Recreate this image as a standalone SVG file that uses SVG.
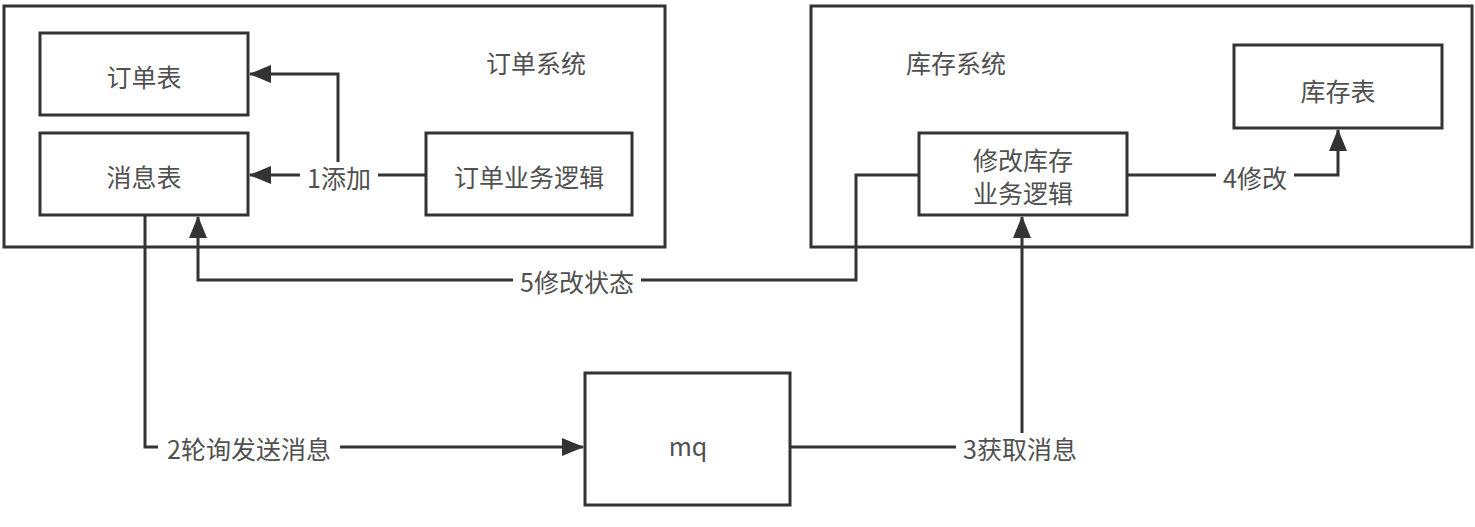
<svg xmlns="http://www.w3.org/2000/svg" width="1475" height="527" viewBox="0 0 1475 527">
<defs>
<style>
.box{fill:#fff;stroke:#333;stroke-width:3}
.t{font-family:"Noto Sans CJK SC","Liberation Sans",sans-serif;font-size:25px;fill:#505050;text-anchor:middle;dominant-baseline:central}
.c{fill:none;stroke:#333;stroke-width:3}
.lb{fill:#fff}
</style>
<marker id="ah" viewBox="0 0 22 18" refX="21" refY="9" markerWidth="22" markerHeight="18" markerUnits="userSpaceOnUse" orient="auto">
<path d="M0,0 L22,9 L0,18 Z" fill="#333"/>
</marker>
</defs>
<rect width="1475" height="527" fill="#fff"/>
<g id="order-system">
<rect class="box" x="4" y="6" width="661" height="241"/>
<text class="t" x="536" y="62">订单系统</text>
</g>
<g id="stock-system">
<rect class="box" x="811" y="6" width="661" height="241"/>
<text class="t" x="956" y="62">库存系统</text>
</g>
<g id="order-table">
<rect class="box" x="40" y="33" width="208" height="82"/>
<text class="t" x="144" y="76">订单表</text>
</g>
<g id="msg-table">
<rect class="box" x="40" y="133" width="208" height="82"/>
<text class="t" x="144" y="176">消息表</text>
</g>
<g id="order-logic">
<rect class="box" x="426" y="133" width="206" height="82"/>
<text class="t" x="529" y="176">订单业务逻辑</text>
</g>
<g id="stock-table">
<rect class="box" x="1234" y="45" width="208" height="83"/>
<text class="t" x="1338" y="90">库存表</text>
</g>
<g id="stock-logic">
<rect class="box" x="919" y="133" width="208" height="82"/>
<text class="t" x="1023" y="159">修改库存</text>
<text class="t" x="1023" y="192">业务逻辑</text>
</g>
<g id="mq">
<rect class="box" x="585" y="373" width="205" height="132"/>
<text class="t" x="688" y="445">mq</text>
</g>
<g id="connectors">
<path class="c" d="M426,175 H250" marker-end="url(#ah)"/>
<path class="c" d="M338,175 V74 H250" marker-end="url(#ah)"/>
<path class="c" d="M145,215 V447 H583" marker-end="url(#ah)"/>
<path class="c" d="M790,447 H1022 V217" marker-end="url(#ah)"/>
<path class="c" d="M1127,175 H1338 V130" marker-end="url(#ah)"/>
<path class="c" d="M919,175 H856 V280 H198 V217" marker-end="url(#ah)"/>
<rect class="lb" x="300" y="162" width="78" height="28"/>
<text class="t" x="339" y="177">1添加</text>
<rect class="lb" x="158" y="433" width="182" height="30"/>
<text class="t" x="249" y="448">2轮询发送消息</text>
<rect class="lb" x="956" y="433" width="128" height="30"/>
<text class="t" x="1020" y="448">3获取消息</text>
<rect class="lb" x="1216" y="162" width="78" height="28"/>
<text class="t" x="1255" y="177">4修改</text>
<rect class="lb" x="513" y="266" width="128" height="30"/>
<text class="t" x="577" y="281">5修改状态</text>
</g>
</svg>
